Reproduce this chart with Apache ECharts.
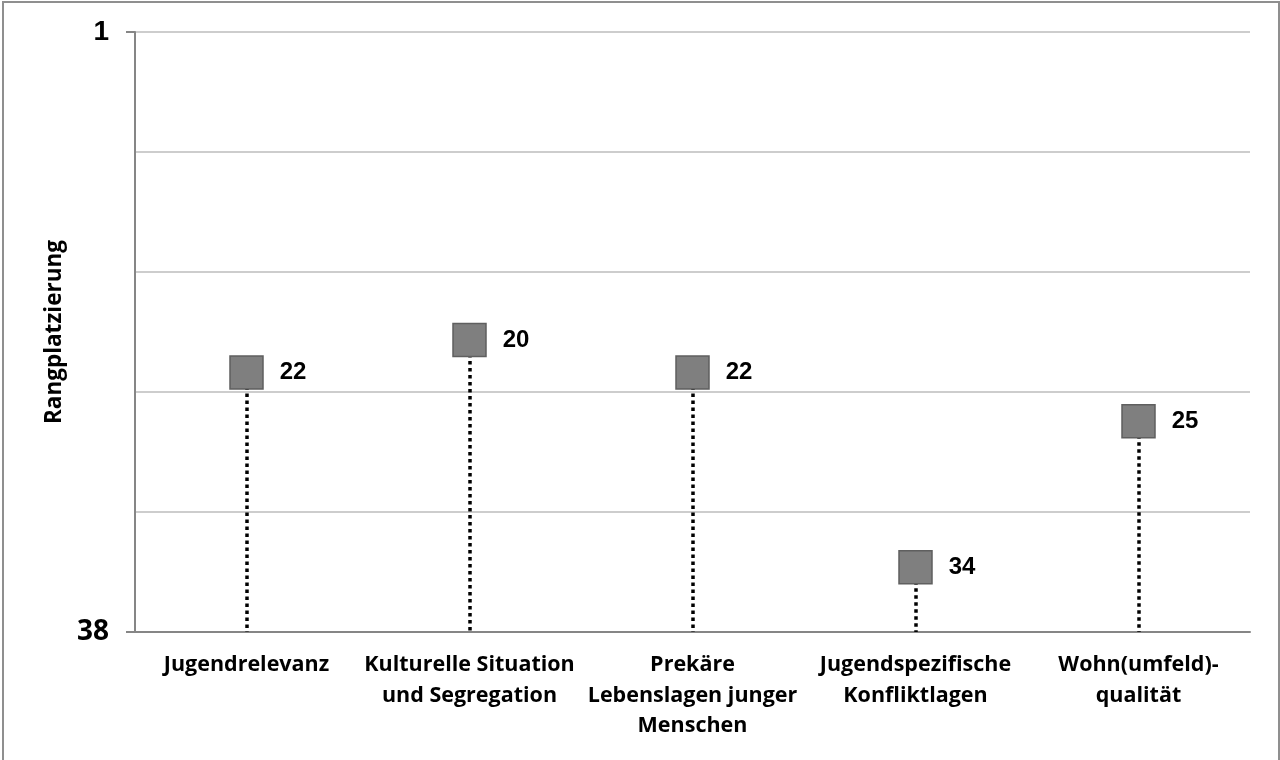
<!DOCTYPE html>
<html>
<head>
<meta charset="utf-8">
<script src="https://cdn.jsdelivr.net/npm/echarts@6/dist/echarts.min.js"></script>
<style>
  html, body { margin: 0; padding: 0; background: #ffffff; }
  #chart { width: 1280px; height: 760px; }
</style>
</head>
<body>
<div id="chart"></div>
<script>
// Rank positions (1 = best, 38 = last) per indicator group
const categories = [
  'Jugendrelevanz',
  'Kulturelle Situation\nund Segregation',
  'Prekäre\nLebenslagen junger\nMenschen',
  'Jugendspezifische\nKonfliktlagen',
  'Wohn(umfeld)-\nqualität'
];
const ranks = [22, 20, 22, 34, 25];
const rankMin = 1;
const rankMax = 38;
const yAxisName = 'Rangplatzierung';

const chart = echarts.init(document.getElementById('chart'), null, { renderer: 'canvas' });

// Dotted drop lines from each marker down to the last rank
const dropLines = categories.map((c, i) => [
  { coord: [i, ranks[i]] },
  { coord: [i, rankMax] }
]);

const option = {
  backgroundColor: '#ffffff',
  animation: false,
  graphic: [{
    type: 'rect',
    shape: { x: 3, y: 2, width: 1276, height: 780 },
    style: { fill: 'none', stroke: '#8f8f8f', lineWidth: 2 },
    silent: true
  }],
  grid: { left: 135, right: 30, top: 32, bottom: 128 },
  xAxis: {
    type: 'category',
    data: categories,
    axisLine: { show: true, lineStyle: { color: '#868686', width: 2 } },
    axisTick: { show: false },
    axisLabel: {
      interval: 0,
      margin: 18,
      color: '#000000',
      fontFamily: 'Open Sans',
      fontWeight: 'bold',
      fontSize: 21.5,
      lineHeight: 30.5
    }
  },
  yAxis: [{
    type: 'value',
    inverse: true,
    min: rankMin,
    max: rankMax,
    interval: rankMax - rankMin,
    name: yAxisName,
    nameLocation: 'middle',
    nameGap: 68,
    nameRotate: 90,
    nameTextStyle: {
      color: '#000000',
      fontFamily: 'Open Sans',
      fontWeight: 'bold',
      fontSize: 22.5
    },
    axisLine: { show: true, lineStyle: { color: '#868686', width: 2 } },
    axisTick: { show: true, length: 9, lineStyle: { color: '#868686', width: 2 } },
    splitLine: { show: false },
    axisLabel: {
      margin: 26,
      formatter: v => (Math.round(v) === rankMin ? '{a|' + rankMin + '}' : '{b|' + rankMax + '}'),
      rich: {
        a: { fontFamily: 'Liberation Sans', fontWeight: 'bold', fontSize: 28, color: '#000000' },
        b: { fontFamily: 'Open Sans', fontWeight: 'bold', fontSize: 28, color: '#000000' }
      }
    }
  }, {
    // Horizontal grid lines dividing the rank range into five bands
    type: 'value',
    inverse: true,
    min: rankMin,
    max: rankMax,
    interval: (rankMax - rankMin) / 5,
    position: 'left',
    axisLine: { show: false },
    axisTick: { show: false },
    axisLabel: { show: false },
    splitLine: { show: true, lineStyle: { color: '#bdbdbd', width: 1.5 } }
  }],
  series: [{
    type: 'line',
    data: [],
    z: 1,
    silent: true,
    markLine: {
      z: 1,
      silent: true,
      symbol: ['none', 'none'],
      label: { show: false },
      lineStyle: { color: '#000000', width: 3.5, type: [3.5, 3.5] },
      emphasis: { disabled: true },
      data: dropLines
    }
  }, {
    type: 'scatter',
    data: ranks,
    yAxisIndex: 0,
    z: 10,
    symbol: 'rect',
    symbolSize: 33,
    itemStyle: { color: '#7f7f7f', borderColor: '#5f5f5f', borderWidth: 1.5, opacity: 1 },
    label: {
      show: true,
      position: 'right',
      distance: 16,
      formatter: p => String(p.value),
      color: '#000000',
      fontFamily: 'Liberation Sans',
      fontWeight: 'bold',
      fontSize: 24
    }
  }]
};

chart.setOption(option);
</script>
</body>
</html>
